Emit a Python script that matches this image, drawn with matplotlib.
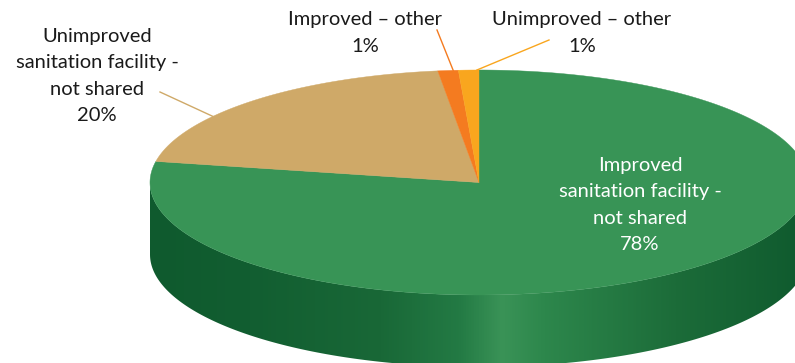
import numpy as np
import matplotlib.pyplot as plt
from matplotlib.patches import Polygon
from matplotlib.colors import LinearSegmentedColormap

categories = ["Improved\nsanitation facility -\nnot shared",
              "Unimproved\nsanitation facility -\nnot shared",
              "Improved \u2013 other",
              "Unimproved \u2013 other"]
shares = [78, 20, 1, 1]
colors = ["#389456", "#CFA968", "#F47B20", "#F9A61E"]

W, H = 795, 363
CX, CY = 479, 182.5      # centre of the top face (pixels, y down)
RA, RB = 329, 112.5      # ellipse half-axes
DEPTH = 72               # thickness of the disc

plt.rcParams['font.family'] = ['Lato', 'DejaVu Sans']


def ell(t, dy=0):
    # t: clockwise angle from 12 o'clock, degrees
    r = np.radians(t)
    return CX + RA * np.sin(r), CY - RB * np.cos(r) + dy


fig = plt.figure(figsize=(W / 100, H / 100), dpi=100)
ax = fig.add_axes([0, 0, 1, 1])
ax.set_xlim(0, W)
ax.set_ylim(H, 0)
ax.axis('off')

# side wall (only the front half is visible)
t_front = np.linspace(90, 270, 200)
xs, ys = ell(t_front)
xb, yb = ell(t_front[::-1], DEPTH)
side = Polygon(np.column_stack([np.r_[xs, xb], np.r_[ys, yb]]),
               closed=True, facecolor='none', edgecolor='none')
ax.add_patch(side)
side_cmap = LinearSegmentedColormap.from_list("side", [
    (0.00, "#0F5A2E"), (0.15, "#125E31"), (0.35, "#196837"),
    (0.47, "#237A44"), (0.535, "#3A9357"), (0.60, "#2D874C"),
    (0.80, "#1C6C39"), (1.00, "#0F5A2E")])
grad = np.linspace(0, 1, 512)[None, :]
img = ax.imshow(grad, cmap=side_cmap, aspect='auto',
                extent=[CX - RA, CX + RA, CY + RB + DEPTH + 2, CY - 2], zorder=1)
img.set_clip_path(side)

# top face slices
start = 0.0
spans = []
for val, col in zip(shares, colors):
    span = 360.0 * val / sum(shares)
    t = np.linspace(start, start + span, max(int(span * 2), 4))
    px, py = ell(t)
    poly = Polygon(np.column_stack([np.r_[CX, px], np.r_[CY, py]]),
                   closed=True, facecolor=col, edgecolor=col, lw=0.3, zorder=2)
    ax.add_patch(poly)
    spans.append((start, span))
    start += span

fs = 14.5
ls = 1.68
# labels
ax.text(640, 205, f"{categories[0]}\n{shares[0]}%", color='white', fontsize=fs,
        ha='center', va='center', linespacing=ls, zorder=4)
ax.text(97, 76, f"{categories[1]}\n{shares[1]}%", color='#1a1a1a', fontsize=fs,
        ha='center', va='center', linespacing=ls, zorder=4)
ax.text(365, 33, f"{categories[2]}\n{shares[2]}%", color='#1a1a1a', fontsize=fs,
        ha='center', va='center', linespacing=ls, zorder=4)
ax.text(582, 33, f"{categories[3]}\n{shares[3]}%", color='#1a1a1a', fontsize=fs,
        ha='center', va='center', linespacing=ls, zorder=4)

# leader lines
s, sp = spans[1]
ex, ey = ell(s + 0.35 * sp)
ax.plot([160, ex], [92, ey], color=colors[1], lw=1, zorder=3)
s, sp = spans[2]
ex, ey = ell(s + 0.75 * sp)
ax.plot([437, ex], [30, ey], color=colors[2], lw=1, zorder=3)
s, sp = spans[3]
ex, ey = ell(s + 0.9 * sp)
ax.plot([549, ex], [40, ey], color=colors[3], lw=1, zorder=3)

fig.savefig("out.png", dpi=100)
